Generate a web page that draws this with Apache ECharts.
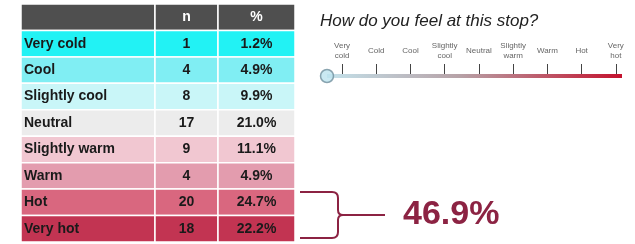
<!DOCTYPE html>
<html>
<head>
<meta charset="utf-8">
<script src="https://cdn.jsdelivr.net/npm/echarts@6/dist/echarts.min.js"></script>
<style>
  html, body { margin: 0; padding: 0; background: #fff; }
  #chart { width: 635px; height: 244px; }
</style>
</head>
<body>
<div id="chart"></div>
<script>
// table data
var categories = ['Very cold', 'Cool', 'Slightly cool', 'Neutral', 'Slightly warm', 'Warm', 'Hot', 'Very hot'];
var counts = [1, 4, 8, 17, 9, 4, 20, 18];
var percents = [1.2, 4.9, 9.9, 21.0, 11.1, 4.9, 24.7, 22.2];
var headers = ['', 'n', '%'];
// thermometer scale
var scaleLabels = ['Very\ncold', 'Cold', 'Cool', 'Slightly\ncool', 'Neutral', 'Slightly\nwarm', 'Warm', 'Hot', 'Very\nhot'];
var scaleEnds = [-0.44, 8.18];
// rows grouped by the bracket
var bracketRows = ['Hot', 'Very hot'];

// styles
var rowColors = ['#4f4f4f', '#22f2f4', '#80eef3', '#c9f6f8', '#ececec', '#f1c7d1', '#e39cae', '#d9677f', '#c23452'];
var colEdges = [0, 0.489, 0.719, 1];
var font = 'Liberation Sans, Arial, sans-serif';
var maroon = '#8c2343';

var rowNames = ['header'].concat(categories);
var cellData = [];
for (var r = 0; r < rowNames.length; r++) {
    for (var c = 0; c < 3; c++) {
        cellData.push([c, r]);
    }
}

function cellText(c, r) {
    if (r === 0) return headers[c];
    if (c === 0) return categories[r - 1];
    if (c === 1) return String(counts[r - 1]);
    return percents[r - 1].toFixed(1) + '%';
}

function renderCell(params, api) {
    var c = api.value(0), r = api.value(1);
    var yc = api.coord([0, r])[1];
    var h = api.size([0, 1])[1];
    var x0 = api.coord([colEdges[c], r])[0];
    var x1 = api.coord([colEdges[c + 1], r])[0];
    var left = c === 0;
    return {
        type: 'group',
        children: [{
            type: 'rect',
            shape: { x: x0, y: yc - h / 2, width: x1 - x0, height: h },
            style: { fill: rowColors[r], stroke: '#ffffff', lineWidth: 1.5 }
        }, {
            type: 'text',
            x: left ? x0 + 3 : (x0 + x1) / 2,
            y: yc,
            style: {
                text: cellText(c, r),
                fill: r === 0 ? '#ffffff' : '#1a1a1a',
                font: 'bold 14px ' + font,
                align: left ? 'left' : 'center',
                verticalAlign: 'middle'
            }
        }]
    };
}

var i0 = rowNames.indexOf(bracketRows[0]);
var i1 = rowNames.indexOf(bracketRows[bracketRows.length - 1]);
var groupSum = 0;
for (var k = i0; k <= i1; k++) groupSum += percents[k - 1];

function renderBracket(params, api) {
    var r0 = api.value(0), r1 = api.value(1);
    var h = api.size([0, 1])[1];
    var xr = api.coord([1, r0])[0];
    var yTop = api.coord([0, r0])[1] - h / 2 + 3;
    var yBot = api.coord([0, r1])[1] + h / 2 - 4;
    var ym = (yTop + yBot) / 2;
    var a = xr + 5, b = xr + 43;
    var path = 'M' + a + ',' + yTop + ' L' + (b - 6) + ',' + yTop +
        ' Q' + b + ',' + yTop + ' ' + b + ',' + (yTop + 6) +
        ' L' + b + ',' + (ym - 5) +
        ' Q' + b + ',' + ym + ' ' + (b + 5) + ',' + ym +
        ' Q' + b + ',' + ym + ' ' + b + ',' + (ym + 5) +
        ' L' + b + ',' + (yBot - 6) +
        ' Q' + b + ',' + yBot + ' ' + (b - 6) + ',' + yBot +
        ' L' + a + ',' + yBot +
        ' M' + (b + 5) + ',' + ym + ' L' + (xr + 90) + ',' + ym;
    return {
        type: 'group',
        children: [{
            type: 'path',
            shape: { pathData: path },
            style: { fill: null, stroke: maroon, lineWidth: 2 }
        }, {
            type: 'text',
            x: xr + 108,
            y: ym,
            style: {
                text: api.value(2).toFixed(1) + '%',
                fill: maroon,
                font: 'bold 34px ' + font,
                align: 'left',
                verticalAlign: 'middle'
            }
        }]
    };
}

var myChart = echarts.init(document.getElementById('chart'));

var option = {
    animation: false,
    title: {
        text: 'How do you feel at this stop?',
        left: 315,
        top: 8,
        textStyle: { fontSize: 17, fontStyle: 'italic', fontWeight: 'normal', color: '#222', fontFamily: font }
    },
    grid: [
        { left: 21, width: 274, top: 4, height: 238 },
        { left: 327, width: 295, top: 30, height: 46 }
    ],
    xAxis: [{
        gridIndex: 0, type: 'value', min: 0, max: 1, show: false
    }, {
        gridIndex: 1, type: 'value', min: scaleEnds[0], max: scaleEnds[1],
        axisLine: { show: false },
        splitLine: { show: false },
        axisTick: {
            show: true, inside: true, length: 12,
            customValues: [0, 1, 2, 3, 4, 5, 6, 7, 8],
            lineStyle: { color: '#444', width: 1 }
        },
        axisLabel: {
            inside: true, margin: 25,
            customValues: [0, 1, 2, 3, 4, 5, 6, 7, 8],
            formatter: function (v) { return scaleLabels[v]; },
            fontSize: 8, lineHeight: 10, color: '#666', fontFamily: font,
            verticalAlign: 'middle', align: 'center'
        }
    }],
    yAxis: [{
        gridIndex: 0, type: 'category', data: rowNames, inverse: true, show: false
    }, {
        gridIndex: 1, type: 'value', min: 0, max: 1, show: false
    }],
    series: [{
        type: 'custom',
        xAxisIndex: 0, yAxisIndex: 0,
        renderItem: renderCell,
        data: cellData
    }, {
        type: 'custom',
        xAxisIndex: 0, yAxisIndex: 0,
        clip: false,
        renderItem: renderBracket,
        data: [[i0, i1, groupSum]]
    }, {
        type: 'line',
        xAxisIndex: 1, yAxisIndex: 1,
        symbol: 'none',
        clip: false,
        data: [[scaleEnds[0], 0], [scaleEnds[1], 0]],
        lineStyle: {
            width: 4,
            color: new echarts.graphic.LinearGradient(0, 0, 1, 0, [
                { offset: 0, color: '#c4e3ec' },
                { offset: 0.45, color: '#b7a2a7' },
                { offset: 1, color: '#c4102c' }
            ])
        },
        z: 3
    }, {
        type: 'scatter',
        xAxisIndex: 1, yAxisIndex: 1,
        clip: false,
        symbolSize: 13,
        data: [[scaleEnds[0], 0]],
        itemStyle: { color: '#bde3ef', borderColor: '#6f8f9c', borderWidth: 1.5 },
        z: 4
    }]
};

myChart.setOption(option);
</script>
</body>
</html>
